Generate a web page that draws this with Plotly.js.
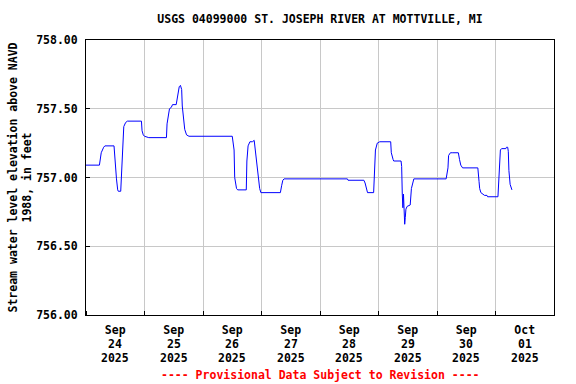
<!DOCTYPE html>
<html>
<head>
<meta charset="utf-8">
<script src="https://cdn.plot.ly/plotly-3.0.1.min.js"></script>
<style>html,body{margin:0;padding:0;background:#fff;}#chart{width:576px;height:384px;}</style>
</head>
<body>
<div id="chart"></div>
<script>
// Gage height readings (feet above NAVD 1988)
const times = [
  '2025-09-24 00:00','2025-09-24 05:30','2025-09-24 05:45','2025-09-24 06:15','2025-09-24 07:15','2025-09-24 07:45',
  '2025-09-24 11:30','2025-09-24 12:00','2025-09-24 12:30','2025-09-24 13:00','2025-09-24 13:15','2025-09-24 14:15',
  '2025-09-24 14:45','2025-09-24 15:15','2025-09-24 15:30','2025-09-24 16:15','2025-09-24 17:00','2025-09-24 22:45',
  '2025-09-24 23:00','2025-09-24 23:30','2025-09-25 00:00','2025-09-25 01:45','2025-09-25 09:00','2025-09-25 09:15',
  '2025-09-25 09:45','2025-09-25 10:15','2025-09-25 11:00','2025-09-25 11:30','2025-09-25 13:00','2025-09-25 13:45',
  '2025-09-25 14:15','2025-09-25 14:45','2025-09-25 15:15','2025-09-25 15:30','2025-09-25 16:00','2025-09-25 16:30',
  '2025-09-25 17:15','2025-09-25 18:15','2025-09-26 12:00','2025-09-26 12:45','2025-09-26 13:00','2025-09-26 13:45',
  '2025-09-26 14:15','2025-09-26 17:45','2025-09-26 18:00','2025-09-26 18:30','2025-09-26 19:15','2025-09-26 20:15',
  '2025-09-26 21:00','2025-09-26 21:30','2025-09-26 22:00','2025-09-26 22:45','2025-09-26 23:15','2025-09-26 23:45',
  '2025-09-27 07:45','2025-09-27 08:15','2025-09-27 08:45','2025-09-27 09:15','2025-09-28 11:15','2025-09-28 11:30',
  '2025-09-28 18:00','2025-09-28 18:30','2025-09-28 19:00','2025-09-28 19:30','2025-09-28 22:00','2025-09-28 22:15',
  '2025-09-28 22:45','2025-09-28 23:30','2025-09-29 00:30','2025-09-29 05:00','2025-09-29 05:15','2025-09-29 06:00',
  '2025-09-29 06:15','2025-09-29 09:15','2025-09-29 09:30','2025-09-29 09:45','2025-09-29 10:00','2025-09-29 10:15',
  '2025-09-29 10:30','2025-09-29 10:45','2025-09-29 11:00','2025-09-29 11:15','2025-09-29 11:45','2025-09-29 13:00',
  '2025-09-29 13:30','2025-09-29 14:00','2025-09-29 14:30','2025-09-30 03:45','2025-09-30 04:30','2025-09-30 04:45',
  '2025-09-30 05:30','2025-09-30 06:30','2025-09-30 08:45','2025-09-30 09:15','2025-09-30 09:45','2025-09-30 10:30',
  '2025-09-30 16:45','2025-09-30 17:15','2025-09-30 17:30','2025-09-30 18:00','2025-09-30 19:00','2025-09-30 19:30',
  '2025-09-30 20:30','2025-09-30 20:45','2025-10-01 01:00','2025-10-01 01:15','2025-10-01 01:45','2025-10-01 02:00',
  '2025-10-01 02:30','2025-10-01 04:15','2025-10-01 04:30','2025-10-01 05:00','2025-10-01 05:15','2025-10-01 05:30',
  '2025-10-01 06:00','2025-10-01 06:30','2025-10-01 06:45'
];
const elevation = [
  757.09,757.09,757.12,757.18,757.22,757.23,
  757.23,757.07,756.99,756.91,756.90,756.90,
  757.07,757.28,757.37,757.40,757.41,757.41,
  757.34,757.31,757.30,757.29,757.29,757.39,
  757.45,757.50,757.51,757.53,757.53,757.63,
  757.66,757.67,757.64,757.52,757.41,757.35,
  757.31,757.30,757.30,757.20,757.00,756.92,
  756.91,756.91,757.12,757.23,757.26,757.26,
  757.27,757.18,757.09,757.00,756.92,756.89,
  756.89,756.94,756.98,756.99,756.99,756.98,
  756.98,756.96,756.91,756.89,756.89,757.03,
  757.20,757.25,757.26,757.26,757.18,757.13,
  757.12,757.12,757.08,756.88,756.78,756.88,
  756.79,756.66,756.71,756.77,756.79,756.80,
  756.92,756.97,756.99,756.99,757.07,757.16,
  757.18,757.18,757.18,757.13,757.09,757.07,
  757.07,756.97,756.92,756.89,756.88,756.87,
  756.87,756.86,756.86,756.94,757.17,757.20,
  757.21,757.21,757.22,757.22,757.19,757.05,
  756.95,756.92,756.91
];

// Axis labels
const xTickDates = ['2025-09-24 12:00','2025-09-25 12:00','2025-09-26 12:00','2025-09-27 12:00',
                    '2025-09-28 12:00','2025-09-29 12:00','2025-09-30 12:00','2025-10-01 12:00'];
const xTickMonth = ['Sep','Sep','Sep','Sep','Sep','Sep','Sep','Oct'];
const xTickDay   = ['24','25','26','27','28','29','30','01'];
const xTickYear  = ['2025','2025','2025','2025','2025','2025','2025','2025'];
const yTickVals  = [756.0, 756.5, 757.0, 757.5, 758.0];
const yTickText  = ['756.00','756.50','757.00','757.50','758.00'];

const titleText = 'USGS 04099000 ST. JOSEPH RIVER AT MOTTVILLE, MI';
const yTitleText = 'Stream water level elevation above NAVD<br>1988, in feet';
const footerText = '---- Provisional Data Subject to Revision ----';

const FONT = '"DejaVu Sans Mono", "Liberation Mono", monospace';
const fnt = (size, color) => ({family: FONT, size: size, color: color || '#000', weight: 'bold'});

const trace = {
  x: times, y: elevation, type: 'scatter', mode: 'lines',
  line: {color: '#0000ff', width: 1}, hoverinfo: 'skip', showlegend: false
};

// Second and third rows of the date labels (day, year), placed under each month tick label
const dateRowAnnotations = [];
xTickDates.forEach((d, i) => {
  dateRowAnnotations.push({text: xTickDay[i], xref: 'x', yref: 'paper', x: d, y: 0, yshift: -28.5,
    xanchor: 'center', yanchor: 'middle', showarrow: false, borderpad: 0, font: fnt(11.5)});
  dateRowAnnotations.push({text: xTickYear[i], xref: 'x', yref: 'paper', x: d, y: 0, yshift: -42.5,
    xanchor: 'center', yanchor: 'middle', showarrow: false, borderpad: 0, font: fnt(11.5)});
});

const layout = {
  width: 576, height: 384,
  margin: {l: 86, r: 22, t: 40, b: 69, pad: 0},
  paper_bgcolor: '#ffffff', plot_bgcolor: '#ffffff',
  font: fnt(11.5),
  title: {text: titleText, font: fnt(11.5), x: 0.5, xref: 'paper', xanchor: 'center',
          y: 1 - 19/384, yref: 'container', yanchor: 'middle'},
  xaxis: {
    type: 'date', range: ['2025-09-24 00:00', '2025-10-02 00:00'],
    tickmode: 'array', tickvals: xTickDates, ticktext: xTickMonth,
    ticks: '', showgrid: false, zeroline: false,
    showline: true, linecolor: '#000', linewidth: 1, mirror: true,
    tickfont: fnt(11.5), ticklabelstandoff: 4,
    minor: {dtick: 86400000, tick0: '2025-09-24', showgrid: true, gridcolor: '#c8c8c8', gridwidth: 1,
            ticks: 'inside', ticklen: 4, tickcolor: '#000'}
  },
  yaxis: {
    range: [756, 758], tickmode: 'array', tickvals: yTickVals, ticktext: yTickText,
    ticks: 'inside', ticklen: 4, tickcolor: '#000',
    showgrid: true, gridcolor: '#c8c8c8', gridwidth: 1, zeroline: false,
    showline: true, linecolor: '#000', linewidth: 1, mirror: true,
    tickfont: fnt(11.5), ticklabelstandoff: 5
  },
  annotations: [
    {text: yTitleText, textangle: -90, xref: 'paper', yref: 'paper', x: 0, y: 0.5,
     xanchor: 'center', yanchor: 'middle', xshift: -66, showarrow: false, font: fnt(11.5), align: 'center'},
    {text: footerText, xref: 'paper', yref: 'paper', x: 0.5, y: 0, yshift: -60,
     xanchor: 'center', yanchor: 'middle', showarrow: false, font: fnt(11.5, '#ff0000')}
  ].concat(dateRowAnnotations)
};

Plotly.newPlot('chart', [trace], layout, {staticPlot: true, displayModeBar: false});
</script>
</body>
</html>
